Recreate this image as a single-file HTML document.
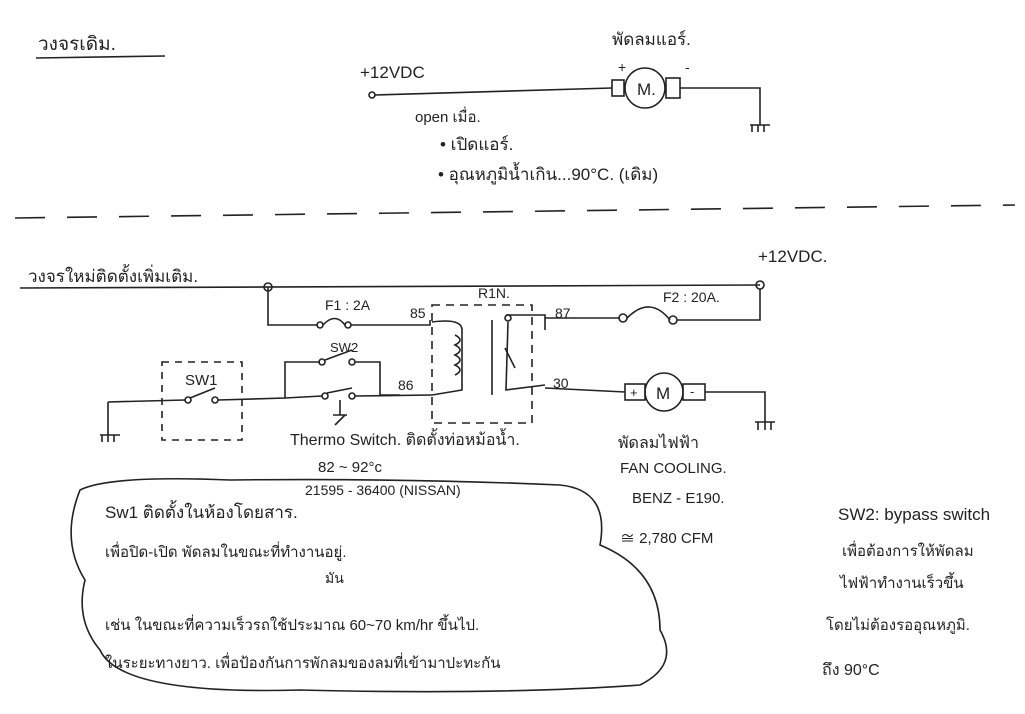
<!DOCTYPE html>
<html><head><meta charset="utf-8"><style>
body{margin:0;background:#fff}
svg{display:block}
text{font-family:"Liberation Sans","Noto Sans CJK SC",sans-serif;fill:#222}
</style></head><body>
<svg width="1025" height="714" viewBox="0 0 1025 714" xmlns="http://www.w3.org/2000/svg" stroke="#222" fill="none" stroke-width="1.6">
<!-- top circuit -->
<text x="38" y="50" font-size="19" stroke="none">วงจรเดิม.</text>
<line x1="36" y1="58" x2="165" y2="56"/>
<text x="612" y="45" font-size="17" stroke="none">พัดลมแอร์.</text>
<text x="360" y="78" font-size="17" stroke="none">+12VDC</text>
<circle cx="372" cy="95" r="3"/>
<path d="M375 95 L612 88"/>
<rect x="612" y="80" width="12" height="16"/>
<circle cx="645" cy="88" r="20"/>
<text x="637" y="95" font-size="17" stroke="none">M.</text>
<rect x="666" y="78" width="14" height="20"/>
<text x="618" y="72" font-size="14" stroke="none">+</text>
<text x="685" y="72" font-size="14" stroke="none">-</text>
<path d="M680 88 L760 88 L760 125"/>
<path d="M750 125 L770 125 M752 125 L752 132 M758 125 L758 132 M764 125 L764 132"/>
<text x="415" y="122" font-size="15" stroke="none">open เมื่อ.</text>
<text x="440" y="150" font-size="17" stroke="none">• เปิดแอร์.</text>
<text x="438" y="180" font-size="17" stroke="none">• อุณหภูมิน้ำเกิน...90°C. (เดิม)</text>
<path d="M15 218 L1015 205" stroke-dasharray="30 22"/>
<!-- new circuit -->
<text x="28" y="282" font-size="17" stroke="none">วงจรใหม่ติดตั้งเพิ่มเติม.</text>
<path d="M20 288 L760 285"/>
<circle cx="268" cy="287" r="4"/>
<circle cx="760" cy="285" r="4"/>
<text x="758" y="262" font-size="17" stroke="none">+12VDC.</text>
<path d="M268 287 L268 325 L318 325"/>
<circle cx="320" cy="325" r="3"/>
<path d="M323 325 Q335 312 345 325"/>
<circle cx="348" cy="325" r="3"/>
<path d="M351 325 L430 325 L430 320"/>
<text x="325" y="310" font-size="14" stroke="none">F1 : 2A</text>
<text x="410" y="318" font-size="14" stroke="none">85</text>
<text x="478" y="298" font-size="14" stroke="none">R1N.</text>
<!-- relay dashed box -->
<rect x="432" y="305" width="100" height="118" stroke-dasharray="8 6"/>
<path d="M432 322 Q462 318 462 330 L462 390 L432 395"/>
<path d="M455 335 q10 5 0 10 q10 5 0 10 q10 5 0 10 q10 5 0 10"/>
<line x1="492" y1="320" x2="492" y2="395"/>
<path d="M506 315 L545 315 L545 330"/>
<circle cx="508" cy="318" r="3"/>
<path d="M508 322 L506 390 L545 385"/>
<line x1="505" y1="348" x2="515" y2="368"/>
<text x="555" y="318" font-size="14" stroke="none">87</text>
<text x="553" y="388" font-size="14" stroke="none">30</text>
<path d="M545 318 L620 318"/>
<circle cx="623" cy="318" r="4"/>
<path d="M627 318 Q650 295 670 320"/>
<circle cx="673" cy="320" r="4"/>
<path d="M677 320 L760 320 L760 289"/>
<text x="663" y="302" font-size="14" stroke="none">F2 : 20A.</text>
<path d="M545 388 L625 392"/>
<rect x="625" y="384" width="20" height="16"/>
<text x="630" y="397" font-size="13" stroke="none">+</text>
<circle cx="664" cy="392" r="19"/>
<text x="656" y="399" font-size="17" stroke="none">M</text>
<rect x="683" y="384" width="22" height="16"/>
<text x="690" y="396" font-size="13" stroke="none">-</text>
<path d="M705 392 L765 392 L765 422"/>
<path d="M755 422 L775 422 M758 422 L758 430 M765 422 L765 430 M771 422 L771 430"/>
<text x="618" y="448" font-size="16" stroke="none">พัดลมไฟฟ้า</text>
<text x="620" y="473" font-size="15" stroke="none">FAN COOLING.</text>
<text x="632" y="503" font-size="15" stroke="none">BENZ - E190.</text>
<text x="620" y="543" font-size="15" stroke="none">≅ 2,780 CFM</text>
<!-- left side switches -->
<path d="M108 402 L108 435 M100 435 L120 435 M102 435 L102 442 M108 435 L108 442 M114 435 L114 442"/>
<path d="M108 402 L185 400"/>
<rect x="162" y="362" width="80" height="78" stroke-dasharray="7 6"/>
<text x="185" y="385" font-size="15" stroke="none">SW1</text>
<circle cx="188" cy="400" r="3"/>
<circle cx="215" cy="400" r="3"/>
<line x1="190" y1="398" x2="215" y2="388"/>
<path d="M218 400 L285 398 L285 362 L320 362"/>
<circle cx="322" cy="362" r="3"/>
<circle cx="352" cy="362" r="3"/>
<line x1="325" y1="360" x2="352" y2="350"/>
<text x="330" y="352" font-size="13" stroke="none">SW2</text>
<path d="M355 362 L380 362 L380 395 L400 395"/>
<circle cx="325" cy="396" r="3"/>
<circle cx="352" cy="396" r="3"/>
<line x1="327" y1="393" x2="352" y2="388"/>
<path d="M340 400 L340 415 M333 415 L347 415 M345 415 L335 425"/>
<path d="M285 398 L322 396 M355 396 L432 395"/>
<text x="398" y="390" font-size="14" stroke="none">86</text>
<text x="290" y="445" font-size="16" stroke="none">Thermo Switch. ติดตั้งท่อหม้อน้ำ.</text>
<text x="318" y="472" font-size="15" stroke="none">82 ~ 92°c</text>
<text x="305" y="495" font-size="14" stroke="none">21595 - 36400 (NISSAN)</text>
<!-- cloud note -->
<path d="M80 490 Q110 475 230 480 Q400 478 560 485 Q610 490 600 545 Q660 570 660 630 Q680 665 640 685 Q500 695 300 690 Q120 695 100 650 Q75 620 85 580 Q60 540 80 490 Z"/>
<text x="105" y="518" font-size="17" stroke="none">Sw1 ติดตั้งในห้องโดยสาร.</text>
<text x="105" y="557" font-size="15" stroke="none">เพื่อปิด-เปิด พัดลมในขณะที่ทำงานอยู่.</text>
<text x="325" y="583" font-size="14" stroke="none">มัน</text>
<text x="105" y="630" font-size="15" stroke="none">เช่น ในขณะที่ความเร็วรถใช้ประมาณ 60~70 km/hr ขึ้นไป.</text>
<text x="105" y="668" font-size="15" stroke="none">ในระยะทางยาว. เพื่อป้องกันการพักลมของลมที่เข้ามาปะทะกัน</text>
<!-- right note -->
<text x="838" y="520" font-size="17" stroke="none">SW2: bypass switch</text>
<text x="842" y="556" font-size="15" stroke="none">เพื่อต้องการให้พัดลม</text>
<text x="840" y="588" font-size="15" stroke="none">ไฟฟ้าทำงานเร็วขึ้น</text>
<text x="826" y="630" font-size="15" stroke="none">โดยไม่ต้องรออุณหภูมิ.</text>
<text x="822" y="675" font-size="16" stroke="none">ถึง 90°C</text>
</svg>
</body></html>
